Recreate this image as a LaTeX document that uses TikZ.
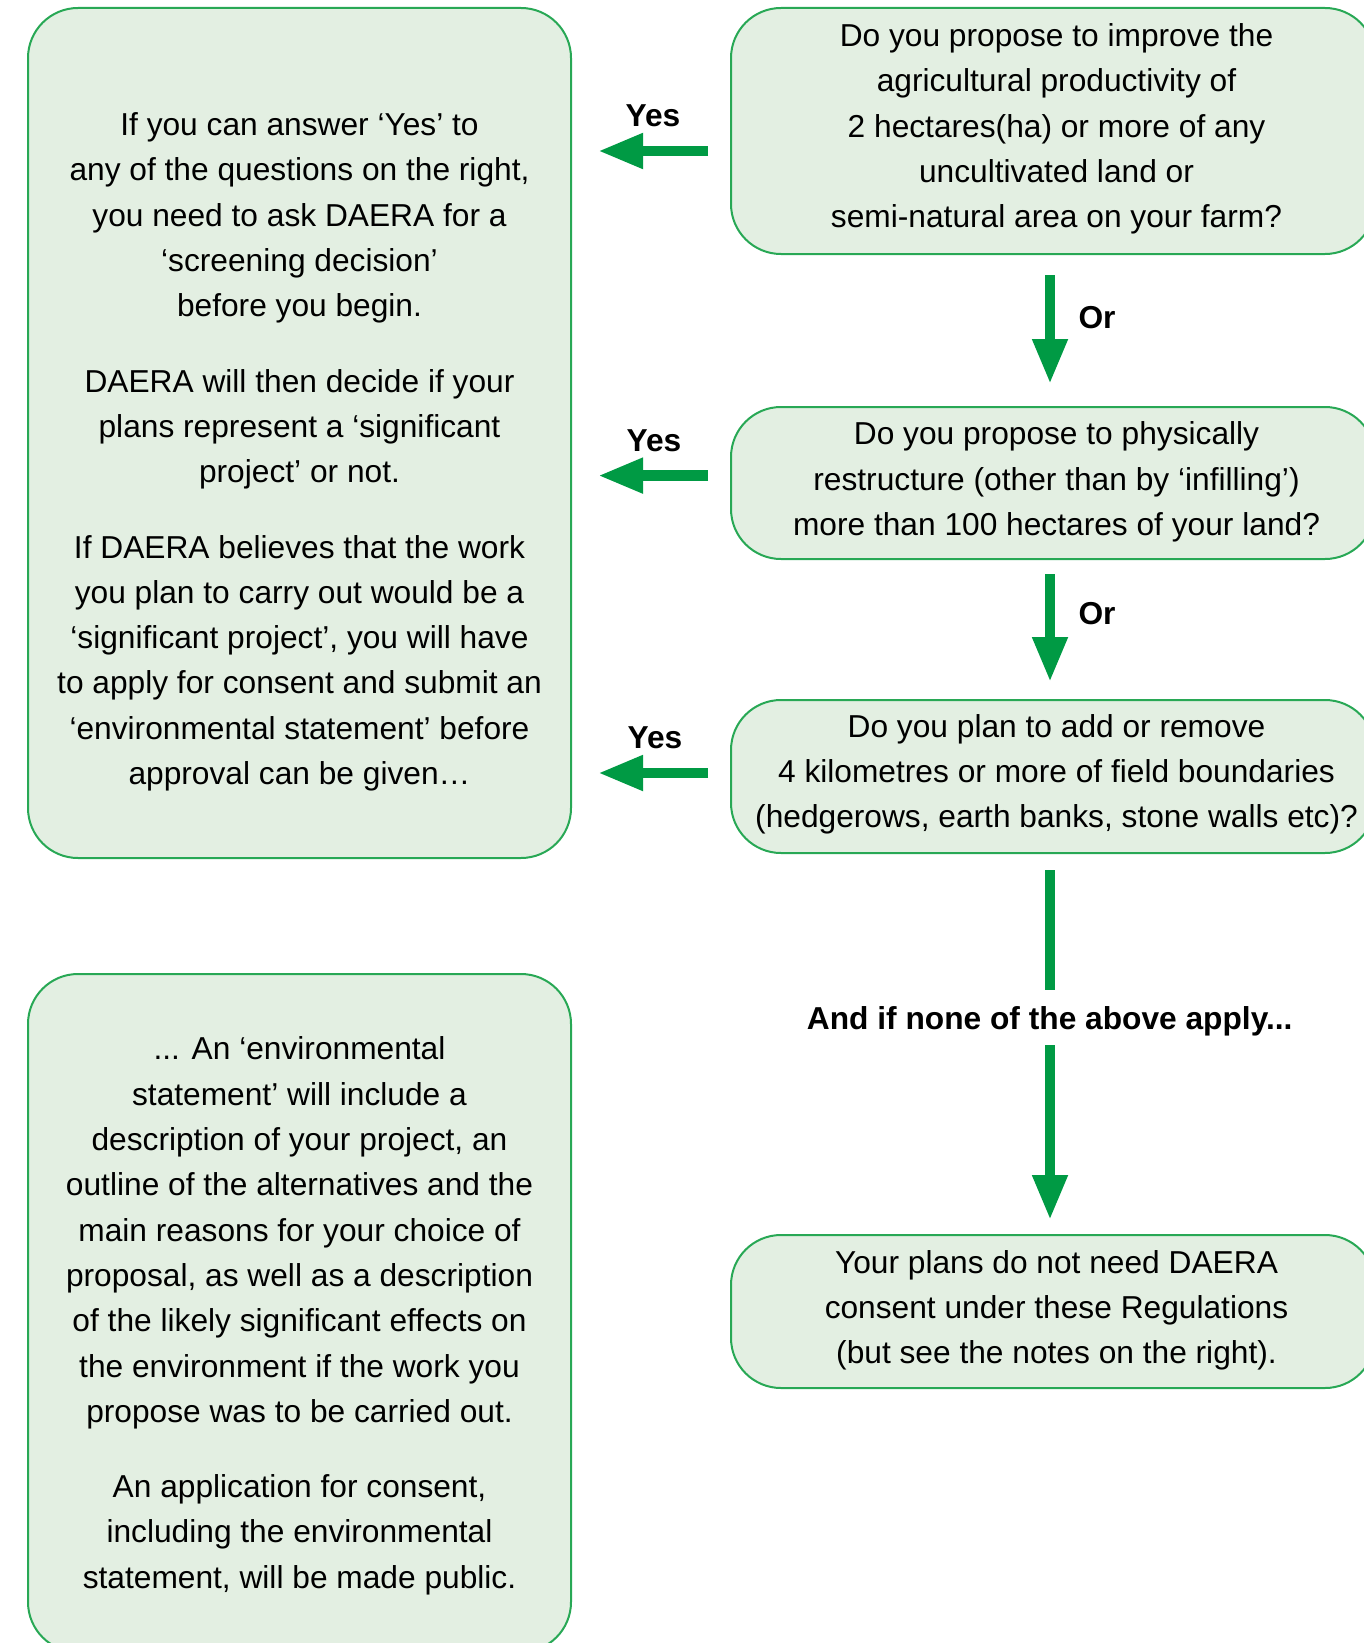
\documentclass[tikz,border=0pt]{standalone}
\usepackage{fontspec}
\setmainfont{Liberation Sans}
\usetikzlibrary{arrows.meta}
\definecolor{panelfill}{RGB}{227,239,226}
\definecolor{paneldraw}{RGB}{40,168,85}
\definecolor{arrowgreen}{RGB}{0,154,68}
\begin{document}
\begin{tikzpicture}[x=1pt,y=-1pt,
  panel/.style={draw=paneldraw, fill=panelfill, line width=2pt, rounded corners=50pt, inner sep=0pt},
  body/.style={inner sep=0pt, align=center, font=\fontsize{31.7}{45.3}\selectfont},
  lbl/.style={inner sep=0pt, font=\fontsize{31.7}{38}\selectfont\bfseries},
  bigarrow/.style={draw=arrowgreen, line width=10.5pt, -{Triangle[length=45pt,width=33pt]}},
  shaft/.style={draw=arrowgreen, line width=10.5pt}]
\useasboundingbox (0,0) rectangle (1364,1643);
\clip (0,0) rectangle (1364,1643);

% panels
\node[panel, minimum width=543pt, minimum height=850pt] (L1) at (299.5,433) {};
\node[panel, minimum width=543pt, minimum height=678pt] (L2) at (299.5,1313) {};
\node[panel, minimum width=644pt, minimum height=246pt] (R1) at (1053,131) {};
\node[panel, minimum width=644pt, minimum height=152pt] (R2) at (1053,483) {};
\node[panel, minimum width=644pt, minimum height=153pt] (R3) at (1053,776.5) {};
\node[panel, minimum width=644pt, minimum height=153pt] (R4) at (1053,1311.5) {};

% texts
\node[body] (L1t) at (299.5,451) {\strut If you can answer ‘Yes’ to\\ any of the questions on the right,\\ you need to ask DAERA for a\\ ‘screening decision’\\ before you begin.\\[30pt] DAERA will then decide if your\\ plans represent a ‘significant\\ project’ or not.\\[30pt] If DAERA believes that the work\\ you plan to carry out would be a\\ ‘significant project’, you will have\\ to apply for consent and submit an\\ ‘environmental statement’ before\\ approval can be given…\strut};

\node[body] (L2t) at (299.5,1315) {\strut ... An ‘environmental\\ statement’ will include a\\ description of your project, an\\ outline of the alternatives and the\\ main reasons for your choice of\\ proposal, as well as a description\\ of the likely significant effects on\\ the environment if the work you\\ propose was to be carried out.\\[30pt] An application for consent,\\ including the environmental\\ statement, will be made public.\strut};

\node[body] (R1t) at (1056.5,128) {\strut Do you propose to improve the\\ agricultural productivity of\\ 2 hectares(ha) or more of any\\ uncultivated land or\\ semi-natural area on your farm?\strut};
\node[body] (R2t) at (1056.5,481) {\strut Do you propose to physically\\ restructure (other than by ‘infilling’)\\ more than 100 hectares of your land?\strut};
\node[body] (R3t) at (1056.5,773.5) {\strut Do you plan to add or remove\\ 4 kilometres or more of field boundaries\\ (hedgerows, earth banks, stone walls etc)?\strut};
\node[body] (R4t) at (1056.5,1309.5) {\strut Your plans do not need DAERA\\ consent under these Regulations\\ (but see the notes on the right).\strut};

% labels
\node[lbl] (yes1) at (653,116) {Yes};
\node[lbl] (yes2) at (654,441) {Yes};
\node[lbl] (yes3) at (655,737.5) {Yes};
\node[lbl] (or1) at (1097,318) {Or};
\node[lbl] (or2) at (1097,614) {Or};
\node[lbl] (none) at (1049.7,1021) {And if none of the above apply...};

% arrows
\coordinate (a1s) at (708,151);   \coordinate (a1e) at (598,151);
\coordinate (a2s) at (708,475.6); \coordinate (a2e) at (598,475.6);
\coordinate (a3s) at (708,773);   \coordinate (a3e) at (598,773);
\coordinate (d1s) at (1050,275);  \coordinate (d1e) at (1050,384);
\coordinate (d2s) at (1050,574);  \coordinate (d2e) at (1050,682);
\coordinate (d3s) at (1050,870);  \coordinate (d3e) at (1050,990);
\coordinate (d4s) at (1050,1045); \coordinate (d4e) at (1050,1220);
\draw[bigarrow] (a1s) -- (a1e);
\draw[bigarrow] (a2s) -- (a2e);
\draw[bigarrow] (a3s) -- (a3e);
\draw[bigarrow] (d1s) -- (d1e);
\draw[bigarrow] (d2s) -- (d2e);
\draw[shaft] (d3s) -- (d3e);
\draw[bigarrow] (d4s) -- (d4e);
\end{tikzpicture}
\end{document}
